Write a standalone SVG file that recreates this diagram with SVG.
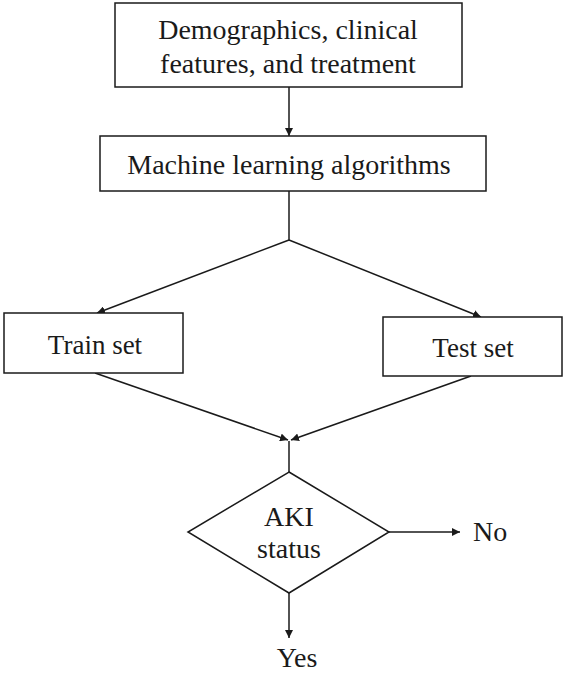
<svg xmlns="http://www.w3.org/2000/svg" width="566" height="673" viewBox="0 0 566 673">
<style>
.box{fill:#fff;stroke:#1a1a1a;stroke-width:1.5}
.t{font-family:"Liberation Serif","Times New Roman",serif;font-size:28px;fill:#1a1a1a;text-anchor:middle}
.c{fill:none;stroke:#1a1a1a;stroke-width:1.5}
</style>
<defs>
<marker id="ah" viewBox="0 0 10 10" refX="10" refY="5" markerWidth="8" markerHeight="8" markerUnits="userSpaceOnUse" orient="auto">
<path d="M0,0 L10,5 L0,10 Z" fill="#1a1a1a"/>
</marker>
</defs>
<rect width="566" height="673" fill="#fff"/>
<g id="connectors">
<line class="c" x1="289" y1="87" x2="289" y2="136" marker-end="url(#ah)"/>
<polyline class="c" points="289,191 289,240"/>
<line class="c" x1="289" y1="240" x2="97" y2="313" marker-end="url(#ah)"/>
<line class="c" x1="289" y1="240" x2="481" y2="317" marker-end="url(#ah)"/>
<line class="c" x1="95" y1="373" x2="288" y2="440" marker-end="url(#ah)"/>
<line class="c" x1="471" y1="376" x2="291" y2="440" marker-end="url(#ah)"/>
<line class="c" x1="289" y1="441" x2="289" y2="472"/>
<line class="c" x1="389" y1="532" x2="460" y2="532" marker-end="url(#ah)"/>
<line class="c" x1="289" y1="593" x2="289" y2="638" marker-end="url(#ah)"/>
</g>
<g id="inputs">
<rect class="box" x="115" y="3" width="347" height="84"/>
<text class="t" x="288" y="39">Demographics, clinical</text>
<text class="t" x="288" y="73">features, and treatment</text>
</g>
<g id="ml">
<rect class="box" x="100" y="136" width="386" height="55"/>
<text class="t" x="289" y="174">Machine learning algorithms</text>
</g>
<g id="train">
<rect class="box" x="4" y="313" width="179" height="60"/>
<text class="t" x="95" y="354" style="font-size:27px">Train set</text>
</g>
<g id="test">
<rect class="box" x="383" y="317" width="179" height="59"/>
<text class="t" x="473" y="357" style="font-size:27px">Test set</text>
</g>
<g id="aki">
<polygon class="box" points="289,472 389,532 289,593 188,532"/>
<text class="t" x="289" y="526">AKI</text>
<text class="t" x="289" y="558">status</text>
</g>
<g id="no">
<text class="t" x="473" y="541" style="text-anchor:start">No</text>
</g>
<g id="yes">
<text class="t" x="297" y="667">Yes</text>
</g>
</svg>
